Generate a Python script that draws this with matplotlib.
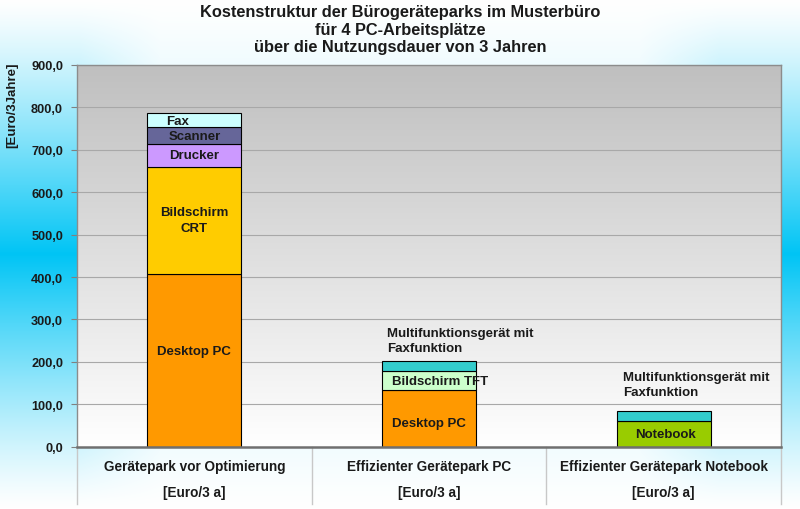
import numpy as np
import matplotlib
matplotlib.use("Agg")
import matplotlib.pyplot as plt
from matplotlib.transforms import blended_transform_factory

plt.rcParams['font.family'] = ['Liberation Sans', 'DejaVu Sans']
plt.rcParams['font.weight'] = 'bold'

# ---- data ----
categories = ["Gerätepark vor Optimierung", "Effizienter Gerätepark PC", "Effizienter Gerätepark Notebook"]
unit_label = "[Euro/3 a]"
desktop_pc = [407, 134, 0]
bildschirm_crt = [253, 0, 0]
drucker = [54, 0, 0]
scanner = [39, 0, 0]
fax = [33, 0, 0]
notebook = [0, 0, 61]
bildschirm_tft = [0, 44, 0]
multifunktion = [0, 23, 23]
yticks = [0, 100, 200, 300, 400, 500, 600, 700, 800, 900]
title = "Kostenstruktur der Bürogeräteparks im Musterbüro\nfür 4 PC-Arbeitsplätze\nüber die Nutzungsdauer von 3 Jahren"
ylabel = "[Euro/3Jahre]"

W, H = 800, 510
fig = plt.figure(figsize=(W / 100, H / 100), dpi=100)

# ---- figure background gradient ----
bg = fig.add_axes([0, 0, 1, 1], zorder=-10)
xx = np.linspace(0, 1, W)
yy = np.linspace(0, 1, H)
X, Y = np.meshgrid(xx, yy)
t = np.abs(X - 0.5) / 0.5
hx = 0.3 + 0.7 * np.clip((t - 0.6) / 0.2, 0, 1)
dy = np.abs(Y - 0.5) / 0.5
vy = np.clip(1 - dy, 0, 1) ** 1.2
k = np.clip(hx * vy, 0, 1)
white = np.array([1.0, 1.0, 1.0])
cyan = np.array([0.0, 0.77, 0.96])
img = white[None, None, :] * (1 - k[..., None]) + cyan[None, None, :] * k[..., None]
bg.imshow(img, extent=[0, 1, 0, 1], aspect='auto', origin='upper')
bg.axis('off')

# ---- main axes ----
ax = fig.add_axes([77 / W, 1 - 447.7 / H, (781 - 77) / W, (447.7 - 66) / H])
ax.set_facecolor('none')
grad = np.linspace(0, 1, 256)[:, None]
gcol = np.array([0.75, 0.75, 0.75])[None, None, :] * grad[..., None] + np.array([1, 1, 1])[None, None, :] * (1 - grad[..., None])
ax.imshow(gcol, extent=[-0.5, 2.5, 0, 900], aspect='auto', origin='lower', zorder=0)
ax.set_xlim(-0.5, 2.5)
ax.set_ylim(0, 900)

for v in yticks[1:]:
    ax.axhline(v, color='#a8a8a8', lw=0.8, zorder=1)

x = np.arange(len(categories))
width = 0.40
layers = [
    (desktop_pc, '#FF9900'),
    (notebook, '#99CC00'),
    (bildschirm_crt, '#FFCC00'),
    (bildschirm_tft, '#CCFFCC'),
    (drucker, '#CC99FF'),
    (scanner, '#666699'),
    (fax, '#CCFFFF'),
    (multifunktion, '#33CCCC'),
]
bottom = np.zeros(len(categories))
for vals, col in layers:
    vals = np.array(vals, dtype=float)
    mask = vals > 0
    ax.bar(x[mask], vals[mask], width, bottom=bottom[mask], color=col,
           edgecolor='black', linewidth=0.8, zorder=3)
    bottom += vals

tc = '#1a1a1a'
fs = 9.5
def seg_mid(i, idx):
    b = sum(l[0][i] for l in layers[:idx])
    return b + layers[idx][0][i] / 2

# bar 1
ax.text(-0.07, seg_mid(0, 6) - 2, "Fax", ha='center', va='center', fontsize=fs, color=tc, zorder=5)
ax.text(0, seg_mid(0, 5), "Scanner", ha='center', va='center', fontsize=fs, color=tc, zorder=5)
ax.text(0, seg_mid(0, 4), "Drucker", ha='center', va='center', fontsize=fs, color=tc, zorder=5)
ax.text(0, 535, "Bildschirm\nCRT", ha='center', va='center', fontsize=fs, color=tc,
        linespacing=1.4, zorder=5)
ax.text(0, 225, "Desktop PC", ha='center', va='center', fontsize=fs, color=tc, zorder=5)
# bar 2
ax.text(1.0, 56, "Desktop PC", ha='center', va='center', fontsize=fs, color=tc, zorder=5)
ax.text(0.841, seg_mid(1, 3) - 2, "Bildschirm TFT", ha='left', va='center', fontsize=fs, color=tc, zorder=5)
ax.text(0.82, 250, "Multifunktionsgerät mit\nFaxfunktion", ha='left', va='center', fontsize=fs,
        color=tc, linespacing=1.35, zorder=5)
# bar 3
ax.text(1.828, 146, "Multifunktionsgerät mit\nFaxfunktion", ha='left', va='center', fontsize=fs,
        color=tc, linespacing=1.35, zorder=5)
ax.text(2.006, 30, "Notebook", ha='center', va='center', fontsize=fs, color=tc, zorder=5)

# axes styling
ax.set_yticks(yticks)
ax.set_yticklabels([f"{v:.1f}".replace('.', ',') for v in yticks], fontsize=9.2, color=tc)
ax.tick_params(axis='y', length=4, color='#808080', pad=6)
ax.set_xticks([])
for s in ['top', 'right', 'left']:
    ax.spines[s].set_color('#8c8c8c')
    ax.spines[s].set_linewidth(1.0)
ax.spines['bottom'].set_color('#707070')
ax.spines['bottom'].set_linewidth(1.8)
ax.spines['bottom'].set_zorder(6)

# category area
tr = blended_transform_factory(ax.transData, ax.transAxes)
for b in [-0.5, 0.5, 1.5, 2.5]:
    ax.plot([b, b], [0, -0.15], transform=tr, clip_on=False, color='#c8c8c8', lw=1.0)
for i, c in enumerate(categories):
    ax.text(i, -0.0506, c, transform=tr, ha='center', va='center', fontsize=9.8, color=tc)
    ax.text(i, -0.119, unit_label, transform=tr, ha='center', va='center', fontsize=9.8, color=tc)

fig.text(0.5, 1 - 30 / H, title, ha='center', va='center', fontsize=11.8, color=tc, linespacing=1.2)
fig.text(12 / W, 1 - 105 / H, ylabel, rotation=90, ha='center', va='center', fontsize=9.5, color=tc)

fig.savefig("out.png", dpi=100)
